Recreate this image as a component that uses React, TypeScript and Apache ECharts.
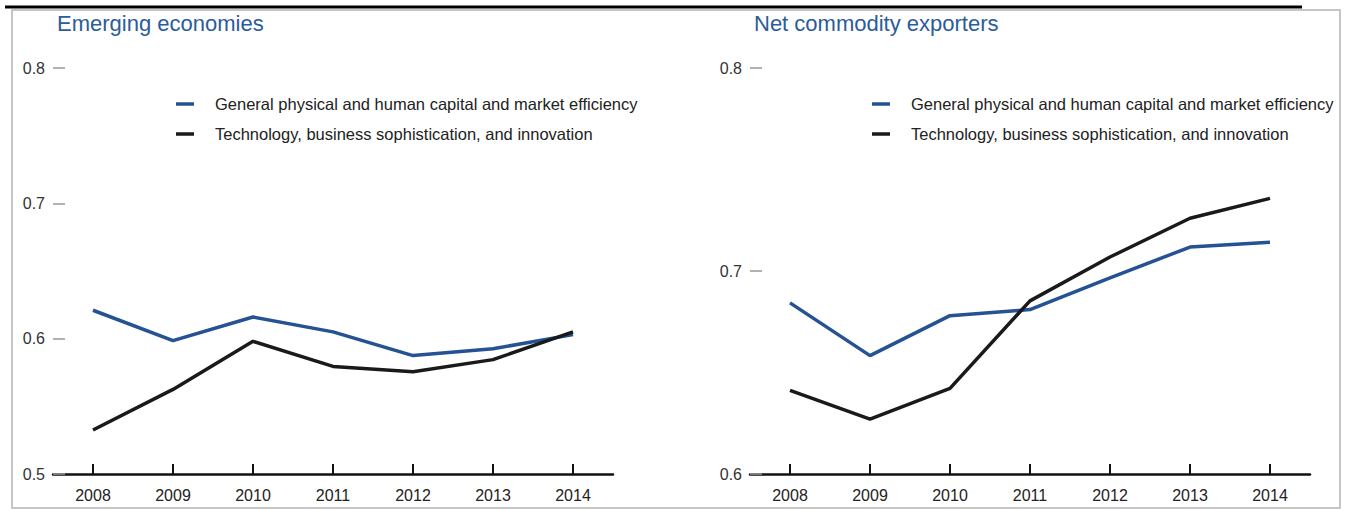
import React, { useEffect, useRef } from "react";
import * as echarts from "echarts";

const years = ["2008", "2009", "2010", "2011", "2012", "2013", "2014"];
const emergingGeneral = [0.621, 0.5985, 0.616, 0.605, 0.5875, 0.5925, 0.603];
const emergingTech = [0.5325, 0.5625, 0.598, 0.5795, 0.5755, 0.5845, 0.605];
const exportersGeneral = [0.6843, 0.6583, 0.678, 0.681, 0.6966, 0.7118, 0.7142];
const exportersTech = [0.6412, 0.627, 0.6422, 0.6853, 0.7069, 0.726, 0.7358];
const seriesNames = [
  "General physical and human capital and market efficiency",
  "Technology, business sophistication, and innovation",
];
const panelTitles = ["Emerging economies", "Net commodity exporters"];

const BLUE = "#245293";
const BLACK = "#1a1a1a";
const SANS = "'Liberation Sans', Arial, sans-serif";

export default function App() {
  const ref = useRef<HTMLDivElement>(null);
  useEffect(() => {
    if (!ref.current) return;
    const chart = echarts.init(ref.current, undefined, { renderer: "svg" });
    const xAxisBase = (gridIndex: number) => ({
      type: "category" as const,
      gridIndex,
      data: years,
      boundaryGap: true,
      axisLine: { show: true, lineStyle: { color: "#111", width: 2.5 } },
      axisTick: { show: true, alignWithLabel: true, inside: true, length: 10, lineStyle: { color: "#111", width: 2 } },
      axisLabel: { color: "#222", fontSize: 16, fontFamily: SANS, margin: 13 },
      splitLine: { show: false },
    });
    const yAxisBase = (gridIndex: number, min: number) => ({
      type: "value" as const,
      gridIndex,
      min,
      max: 0.8,
      interval: 0.1,
      axisLine: { show: false },
      axisTick: { show: true, inside: true, length: 12, lineStyle: { color: "#999", width: 1.5 } },
      axisLabel: { color: "#333", fontSize: 16, fontFamily: SANS, margin: 8, formatter: (v: number) => v.toFixed(1) },
      splitLine: { show: false },
    });
    const legendBase = (left: number, names: string[]) => ({
      left,
      top: 94,
      padding: 0,
      orient: "vertical" as const,
      icon: "rect",
      itemWidth: 18,
      itemHeight: 3.5,
      itemGap: 10,
      selectedMode: false,
      data: names,
      textStyle: { fontSize: 16.5, fontFamily: SANS, color: "#222", lineHeight: 20, padding: [0, 0, 0, 16] },
    });
    const lineSeries = (name: string, data: number[], color: string, idx: number) => ({
      type: "line" as const,
      name,
      data,
      xAxisIndex: idx,
      yAxisIndex: idx,
      symbol: "none",
      lineStyle: { color, width: 3.5 },
      itemStyle: { color },
    });
    const titleStyle = { color: "#2b5c9b", fontSize: 22, fontWeight: "normal" as const, fontFamily: SANS };
    chart.setOption({
      animation: false,
      backgroundColor: "#fff",
      title: [
        { text: panelTitles[0], left: 57, top: 12, padding: 0, textStyle: titleStyle },
        { text: panelTitles[1], left: 754, top: 12, padding: 0, textStyle: titleStyle },
      ],
      legend: [legendBase(176, seriesNames), legendBase(872, seriesNames)],
      grid: [
        { left: 53, top: 68, width: 560, height: 406 },
        { left: 750, top: 68, width: 560, height: 406 },
      ],
      xAxis: [xAxisBase(0), xAxisBase(1)],
      yAxis: [yAxisBase(0, 0.5), yAxisBase(1, 0.6)],
      series: [
        lineSeries(seriesNames[0], emergingGeneral, BLUE, 0),
        lineSeries(seriesNames[1], emergingTech, BLACK, 0),
        lineSeries(seriesNames[0], exportersGeneral, BLUE, 1),
        lineSeries(seriesNames[1], exportersTech, BLACK, 1),
      ],
      graphic: [
        { type: "rect", shape: { x: 12, y: 10, width: 1328, height: 498 }, style: { fill: "none", stroke: "#b4b4b4", lineWidth: 1.5 }, silent: true },
        { type: "line", shape: { x1: 5, y1: 7, x2: 1302, y2: 7 }, style: { stroke: "#000", lineWidth: 3 }, silent: true },
      ],
    });
    return () => chart.dispose();
  }, []);
  return <div ref={ref} style={{ position: "fixed", left: 0, top: 0, width: 1346, height: 510 }} />;
}
